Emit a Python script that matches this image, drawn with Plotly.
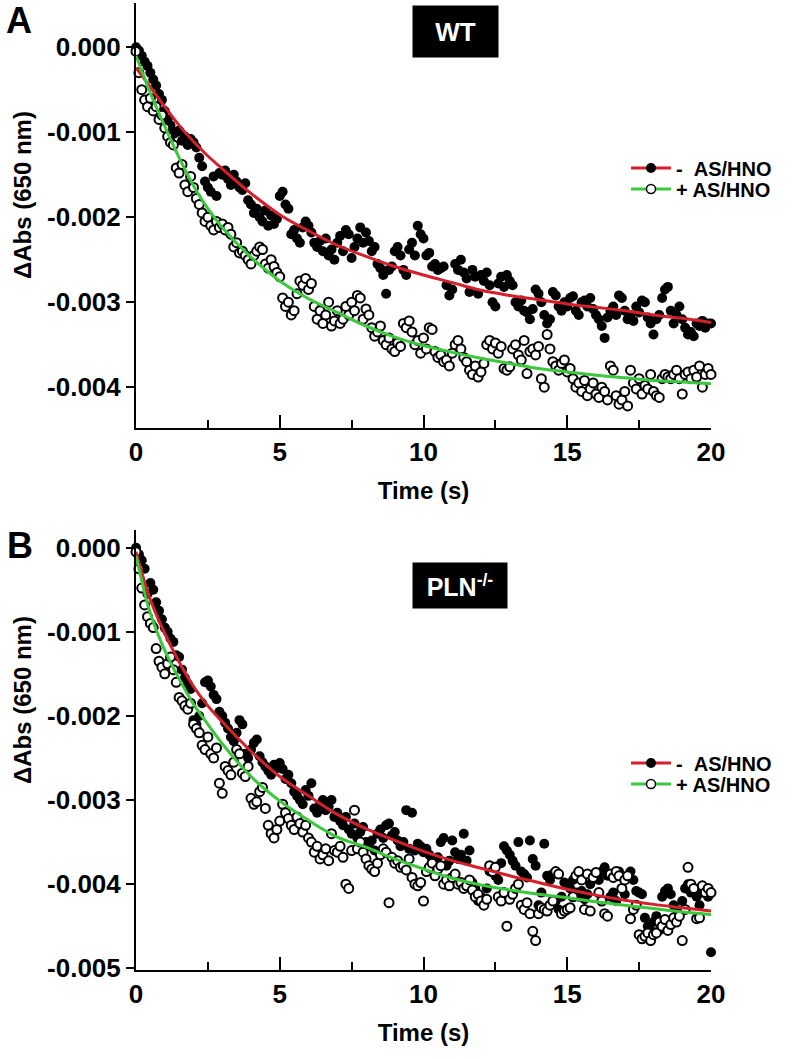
import numpy as np
import plotly.graph_objects as go

# ── data (ΔAbs values, in units of 1e-3) ─────────────────────────────────

TIME = np.round(np.arange(201) * 0.1, 1)  # 0.1 s sampling, 0–20 s

WT_MINUS = [
    0.00, -0.04, -0.10, -0.17, -0.22, -0.30, -0.38, -0.45, -0.55, -0.62,
    -0.75, -0.85, -0.92, -1.02, -1.00, -0.98, -1.10, -1.05, -1.15, -1.08,
    -1.12, -1.18, -1.30, -1.40, -1.58, -1.65, -1.70, -1.52, -1.75, -1.48,
    -1.50, -1.45, -1.55, -1.62, -1.50, -1.58, -1.65, -1.68, -1.60, -1.80,
    -1.85, -1.95, -1.90, -2.00, -2.05, -1.92, -2.10, -1.98, -2.08, -2.02,
    -1.75, -1.70, -1.85, -1.90, -2.20, -2.15, -2.25, -2.30, -2.12, -2.05,
    -2.10, -2.18, -2.30, -2.35, -2.28, -2.40, -2.25, -2.45, -2.38, -2.50,
    -2.30, -2.22, -2.40, -2.15, -2.20, -2.48, -2.35, -2.25, -2.12, -2.30,
    -2.18, -2.28, -2.40, -2.35, -2.55, -2.60, -2.68, -2.90, -2.62, -2.58,
    -2.40, -2.35, -2.45, -2.62, -2.68, -2.38, -2.30, -2.45, -2.10, -2.20,
    -2.25, -2.45, -2.42, -2.58, -2.55, -2.62, -2.60, -2.58, -2.80, -2.92,
    -2.85, -2.55, -2.62, -2.50, -2.65, -2.72, -2.88, -2.62, -2.70, -2.90,
    -2.68, -2.75, -2.65, -2.80, -3.00, -3.05, -2.78, -2.70, -2.82, -2.68,
    -2.75, -2.80, -3.00, -3.05, -2.98, -3.10, -3.12, -3.20, -3.08, -2.85,
    -2.90, -3.00, -3.15, -3.25, -3.20, -2.88, -2.92, -3.05, -3.10, -3.00,
    -3.05, -2.95, -2.93, -3.10, -3.15, -3.00, -2.98, -3.05, -2.95, -3.08,
    -3.15, -3.20, -3.28, -3.42, -3.18, -3.10, -3.05, -3.15, -2.92, -2.95,
    -3.10, -3.20, -3.15, -3.22, -3.05, -3.12, -2.98, -3.00, -3.18, -3.25,
    -3.38, -3.20, -3.15, -2.95, -2.85, -2.82, -3.10, -3.25, -3.15, -3.05,
    -3.20, -3.30, -3.38, -3.35, -3.40, -3.25, -3.28, -3.22, -3.30, -3.25,
    -3.25,
]

WT_PLUS = [
    -0.05, -0.30, -0.50, -0.62, -0.70, -0.60, -0.75, -0.70, -0.85, -0.80,
    -0.95, -1.05, -1.12, -1.15, -1.42, -1.48, -1.38, -1.62, -1.70, -1.52,
    -1.65, -1.78, -1.85, -1.95, -2.05, -2.00, -2.10, -2.15, -2.05, -2.12,
    -2.08, -2.15, -2.12, -2.20, -2.35, -2.30, -2.42, -2.40, -2.45, -2.50,
    -2.55, -2.45, -2.40, -2.35, -2.38, -2.55, -2.60, -2.50, -2.58, -2.65,
    -2.70, -2.95, -3.05, -3.00, -3.15, -3.10, -2.90, -2.75, -2.80, -2.72,
    -2.85, -2.78, -3.05, -3.20, -3.10, -3.25, -3.15, -3.00, -3.28, -3.22,
    -3.10, -3.25, -3.20, -3.05, -3.15, -3.00, -3.10, -2.92, -2.95, -3.20,
    -3.08, -3.15, -3.30, -3.40, -3.35, -3.28, -3.45, -3.50, -3.42, -3.55,
    -3.58, -3.48, -3.52, -3.25, -3.30, -3.22, -3.35, -3.50, -3.45, -3.60,
    -3.42, -3.55, -3.30, -3.32, -3.58, -3.65, -3.62, -3.70, -3.68, -3.75,
    -3.60, -3.50, -3.45, -3.55, -3.65, -3.70, -3.80, -3.85, -3.75, -3.88,
    -3.82, -3.72, -3.50, -3.45, -3.55, -3.48, -3.60, -3.52, -3.78, -3.80,
    -3.76, -3.55, -3.50, -3.62, -3.68, -3.45, -3.84, -3.58, -3.55, -3.62,
    -3.52, -3.90, -4.00, -3.38, -3.55, -3.70, -3.75, -3.80, -3.72, -3.68,
    -3.82, -3.78, -3.90, -4.00, -3.95, -4.05, -3.92, -4.10, -4.02, -3.95,
    -4.08, -4.12, -4.00, -4.05, -4.15, -3.75, -3.80, -4.10, -4.20, -4.15,
    -4.05, -4.22, -3.80, -3.95, -4.02, -3.90, -4.08, -3.98, -4.02, -3.85,
    -4.05, -4.10, -4.12, -3.90, -3.85, -3.88, -3.90, -3.85, -3.80, -3.90,
    -4.08, -3.85, -3.82, -3.90, -3.80, -3.88, -3.75, -4.00, -3.85, -3.78,
    -3.85,
]

PLN_MINUS = [
    0.00, -0.08, -0.15, -0.25, -0.55, -0.42, -0.50, -0.65, -0.75, -0.85,
    -0.95, -1.00, -1.08, -1.12, -1.28, -1.30, -1.45, -1.55, -1.62, -1.68,
    -2.05, -2.10, -2.00, -1.85, -1.60, -1.58, -1.65, -1.75, -1.80, -1.95,
    -2.00, -2.08, -2.15, -2.25, -2.30, -2.20, -2.05, -2.10, -2.45, -2.50,
    -2.40, -2.32, -2.28, -2.48, -2.55, -2.60, -2.65, -2.70, -2.58, -2.62,
    -2.56, -2.63, -2.75, -2.70, -2.80, -2.90, -2.95, -3.00, -3.05, -2.88,
    -2.95, -2.80, -3.10, -3.15, -3.05, -3.00, -3.12, -3.08, -3.00, -3.20,
    -3.15, -3.25, -3.30, -3.20, -3.35, -3.40, -3.28, -3.45, -3.38, -3.32,
    -3.50, -3.55, -3.48, -3.60, -3.40, -3.35, -3.45, -3.30, -3.28, -3.42,
    -3.38, -3.48, -3.55, -3.50, -3.12, -3.58, -3.15, -3.60, -3.52, -3.55,
    -3.62, -3.58, -3.65, -3.70, -3.75, -3.68, -3.50, -3.45, -3.78, -3.72,
    -3.48, -3.62, -3.70, -3.65, -3.40, -3.72, -3.60, -3.98, -4.05, -4.20,
    -4.15, -4.25, -4.05, -3.85, -3.80, -3.90, -3.95, -3.75, -3.55, -3.60,
    -3.65, -3.72, -3.78, -3.50, -3.85, -3.88, -3.92, -3.48, -3.70, -3.78,
    -4.25, -4.10, -3.52, -3.90, -3.95, -3.88, -4.20, -4.30, -4.15, -3.98,
    -4.00, -4.05, -3.95, -4.10, -4.15, -4.08, -4.18, -4.12, -4.00, -3.92,
    -3.88, -3.95, -3.85, -3.80, -3.90, -4.15, -4.10, -4.20, -3.85, -4.05,
    -4.12, -3.90, -3.85, -3.95, -4.08, -4.10, -4.12, -4.40, -4.50, -4.55,
    -4.45, -4.38, -4.55, -4.15, -4.08, -4.05, -4.12, -4.25, -4.30, -4.35,
    -4.20, -4.05, -4.00, -4.10, -4.08, -4.15, -4.25, -4.10, -4.05, -4.15,
    -4.81,
]

PLN_PLUS = [
    -0.05, -0.25, -0.48, -0.68, -0.82, -0.90, -0.95, -1.20, -1.35, -1.42,
    -1.50, -1.38, -1.30, -1.45, -1.60, -1.78, -1.82, -1.88, -1.92, -1.85,
    -2.10, -2.15, -2.20, -2.35, -2.40, -2.25, -2.45, -2.50, -2.38, -2.80,
    -2.92, -2.60, -2.65, -2.70, -2.55, -2.40, -2.45, -2.68, -2.72, -2.60,
    -2.98, -3.05, -3.02, -2.90, -2.85, -3.10, -3.30, -3.40, -3.45, -3.35,
    -3.25, -3.05, -3.15, -3.22, -3.30, -3.35, -3.20, -3.28, -3.38, -3.30,
    -3.45, -3.50, -3.62, -3.55, -3.70, -3.65, -3.58, -3.72, -3.40, -3.60,
    -3.62, -3.55, -3.68, -4.00, -4.05, -3.60, -3.12, -3.58, -3.50, -3.62,
    -3.70, -3.78, -3.82, -3.85, -3.75, -3.65, -3.58, -3.62, -4.22, -3.68,
    -3.75, -3.72, -3.80, -3.78, -3.83, -3.70, -3.92, -4.00, -4.02, -3.98,
    -4.20, -3.85, -3.80, -3.75, -3.90, -3.82, -3.78, -4.00, -3.95, -4.02,
    -3.92, -3.88, -4.00, -3.98, -4.05, -4.02, -3.95, -4.07, -4.15, -4.12,
    -4.20, -4.25, -4.18, -3.78, -3.85, -3.80, -4.15, -4.20, -4.10, -4.50,
    -4.18, -4.12, -4.05, -4.00, -4.25, -4.30, -4.22, -4.35, -4.56, -4.67,
    -4.35, -4.28, -4.30, -4.32, -4.25, -4.20, -3.85, -3.88, -4.35, -4.32,
    -4.30, -4.28, -4.15, -3.90, -3.85, -3.95, -4.30, -3.88, -4.32, -3.92,
    -3.86, -4.10, -4.20, -4.35, -4.38, -3.88, -3.92, -3.85, -3.90, -4.05,
    -3.95, -3.90, -4.41, -4.30, -4.25, -4.60, -4.65, -4.62, -4.58, -4.67,
    -4.60, -4.58, -4.45, -4.50, -4.42, -4.55, -4.48, -4.40, -4.45, -4.38,
    -4.67, -4.30, -3.80, -4.00, -4.05, -4.41, -4.40, -4.02, -4.10, -4.05,
    -4.10,
]

# exponential fits
FIT_T = [0, 0.5, 1, 1.5, 2, 2.5, 3, 4, 5, 6, 7, 8, 9, 10,
         11, 12, 13, 14, 15, 16, 17, 18, 19, 20]
WT_MINUS_FIT = [-0.24, -0.47, -0.70, -0.92, -1.11, -1.28, -1.43, -1.72, -1.97, -2.16,
                -2.33, -2.46, -2.58, -2.68, -2.77, -2.86, -2.92, -2.97, -3.02, -3.06,
                -3.10, -3.15, -3.19, -3.24]
WT_PLUS_FIT = [-0.10, -0.54, -0.93, -1.30, -1.63, -1.90, -2.12, -2.47, -2.75, -2.96,
               -3.12, -3.28, -3.41, -3.51, -3.59, -3.66, -3.72, -3.78, -3.82, -3.86,
               -3.89, -3.92, -3.94, -3.96]
PLN_MINUS_FIT = [-0.05, -0.62, -1.02, -1.36, -1.65, -1.88, -2.07, -2.42, -2.72, -2.95,
                 -3.17, -3.34, -3.48, -3.61, -3.72, -3.81, -3.90, -3.98, -4.06, -4.13,
                 -4.19, -4.24, -4.28, -4.32]
PLN_PLUS_FIT = [-0.10, -0.78, -1.22, -1.56, -1.86, -2.10, -2.33, -2.72, -3.01, -3.24,
                -3.44, -3.56, -3.70, -3.82, -3.93, -4.01, -4.07, -4.12, -4.16, -4.21,
                -4.25, -4.29, -4.33, -4.36]

Y_TICKS_A = [0, -0.001, -0.002, -0.003, -0.004]
Y_TICKS_B = [0, -0.001, -0.002, -0.003, -0.004, -0.005]
X_TICKS = [0, 5, 10, 15, 20]

for s in (WT_MINUS, WT_PLUS, PLN_MINUS, PLN_PLUS):
    assert len(s) == len(TIME)

# ── style ────────────────────────────────────────────────────
W, H = 792, 1059
FONT = "Liberation Sans, Arial, Helvetica, sans-serif"
RED = "#D51F2B"
GREEN = "#3CC83C"
SCALE = 1e-3


def px_x(px):
    return px / W


def px_y(py):
    return 1 - py / H


def ms(v):
    return np.asarray(v) * SCALE


def tick_text(vals):
    return [f"{v:.3f}".replace("-0.000", "0.000") for v in vals]


fig = go.Figure()

panels = [
    ("x", "y", WT_MINUS, WT_PLUS, WT_MINUS_FIT, WT_PLUS_FIT, "legend", "legend2"),
    ("x2", "y2", PLN_MINUS, PLN_PLUS, PLN_MINUS_FIT, PLN_PLUS_FIT, "legend3", "legend4"),
]

for xa, ya, minus, plus, minus_fit, plus_fit, lg1, lg2 in panels:
    fig.add_trace(go.Scatter(
        x=TIME, y=ms(minus), mode="markers", xaxis=xa, yaxis=ya,
        marker=dict(color="black", size=10, line=dict(width=0)),
        showlegend=False, cliponaxis=False,
    ))
    fig.add_trace(go.Scatter(
        x=TIME, y=ms(plus), mode="markers", xaxis=xa, yaxis=ya,
        marker=dict(color="white", size=9, line=dict(color="black", width=2)),
        showlegend=False, cliponaxis=False,
    ))
    fig.add_trace(go.Scatter(
        x=FIT_T, y=ms(minus_fit), mode="lines", xaxis=xa, yaxis=ya,
        line=dict(color=RED, width=3, shape="spline", smoothing=1.0),
        showlegend=False,
    ))
    fig.add_trace(go.Scatter(
        x=FIT_T, y=ms(plus_fit), mode="lines", xaxis=xa, yaxis=ya,
        line=dict(color=GREEN, width=3, shape="spline", smoothing=1.0),
        showlegend=False,
    ))
    # legend samples
    fig.add_trace(go.Scatter(
        x=[None], y=[None], mode="lines+markers", xaxis=xa, yaxis=ya,
        name="-\u00a0\u00a0AS/HNO", legend=lg1,
        line=dict(color=RED, width=3),
        marker=dict(color="black", size=10),
    ))
    fig.add_trace(go.Scatter(
        x=[None], y=[None], mode="lines+markers", xaxis=xa, yaxis=ya,
        name="+ AS/HNO", legend=lg2,
        line=dict(color=GREEN, width=3),
        marker=dict(color="white", size=9, line=dict(color="black", width=1.5)),
    ))

tick_font = dict(family=FONT, size=26, color="black", weight="bold")
title_font = dict(family=FONT, size=24, color="black", weight="bold")

xcommon = dict(
    range=[0, 20], tickvals=X_TICKS, ticktext=[str(v) for v in X_TICKS],
    showline=True, linecolor="black", linewidth=2, mirror=False,
    ticks="inside", ticklen=13, tickwidth=2, tickcolor="black",
    minor=dict(dtick=2.5, ticks="inside", ticklen=8, tickwidth=2, tickcolor="black"),
    showgrid=False, zeroline=False, tickfont=tick_font, automargin=False,
    title=dict(text="Time (s)", font=title_font, standoff=16),
)
ycommon = dict(
    showline=True, linecolor="black", linewidth=2, mirror=False,
    ticks="outside", ticklen=8, tickwidth=2, tickcolor="black",
    showgrid=False, zeroline=False, tickfont=tick_font, automargin=False,
)

dom_x = [px_x(136), px_x(711)]
fig.update_layout(
    template="none",
    xaxis=dict(domain=dom_x, anchor="y", **xcommon),
    yaxis=dict(domain=[px_y(428), px_y(3)], anchor="x", range=[-0.00448, 0.00052],
               tickvals=Y_TICKS_A, ticktext=tick_text(Y_TICKS_A), **ycommon),
    xaxis2=dict(domain=dom_x, anchor="y2", **xcommon),
    yaxis2=dict(domain=[px_y(970), px_y(530)], anchor="x2", range=[-0.00502, 0.00021],
                tickvals=Y_TICKS_B, ticktext=tick_text(Y_TICKS_B), **ycommon),
)

# legends: one entry each so the row spacing matches the original
leg_font = dict(family=FONT, size=20, color="black", weight="bold")
for name, py in (("legend", 168), ("legend2", 189), ("legend3", 763), ("legend4", 784)):
    fig.update_layout({name: dict(
        x=px_x(626), y=px_y(py), xanchor="left", yanchor="middle",
        bgcolor="rgba(0,0,0,0)", borderwidth=0, font=leg_font, itemwidth=40,
    )})

annotations = [
    dict(text="A", x=px_x(19), y=px_y(20), font=dict(family=FONT, size=36, color="black", weight="bold")),
    dict(text="B", x=px_x(20), y=px_y(545), font=dict(family=FONT, size=36, color="black", weight="bold")),
    dict(text="\u0394Abs (650 nm)", x=px_x(22), y=px_y(195), textangle=-90, font=title_font),
    dict(text="\u0394Abs (650 nm)", x=px_x(22), y=px_y(700), textangle=-90, font=title_font),
    dict(text="WT", x=px_x(455.5), y=px_y(31.5), width=85, height=51, bgcolor="black",
         borderpad=0, font=dict(family=FONT, size=26, color="white", weight="bold")),
    dict(text="PLN<sup>-/-</sup>", x=px_x(460), y=px_y(585.5), width=94, height=45, bgcolor="black",
         borderpad=0, font=dict(family=FONT, size=25, color="white", weight="bold")),
]
for a in annotations:
    a.update(xref="paper", yref="paper", showarrow=False, xanchor="center", yanchor="middle")

fig.update_layout(
    width=W, height=H, margin=dict(l=0, r=0, t=0, b=0, pad=0),
    paper_bgcolor="white", plot_bgcolor="white",
    annotations=annotations,
    font=dict(family=FONT, color="black"),
)

# page default body margin would offset the figure by 8 px
fig.write_html(
    "out.html",
    config={"displayModeBar": False},
    post_script="document.body.style.margin='0px';",
)
